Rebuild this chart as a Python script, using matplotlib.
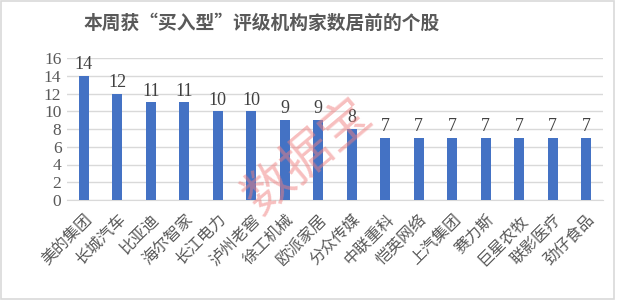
import matplotlib
matplotlib.use('Agg')
import matplotlib.pyplot as plt
from matplotlib.patches import Rectangle

plt.rcParams['font.family'] = ['Liberation Serif', 'Noto Sans CJK SC', 'DejaVu Sans']

# data
stocks = ['美的集团', '长城汽车', '比亚迪', '海尔智家', '长江电力', '泸州老窖', '徐工机械',
          '欧派家居', '分众传媒', '中联重科', '恺英网络', '上汽集团', '赛力斯', '巨星农牧',
          '联影医疗', '劲仔食品']
counts = [14, 12, 11, 11, 10, 10, 9, 9, 8, 7, 7, 7, 7, 7, 7, 7]
yticks = [0, 2, 4, 6, 8, 10, 12, 14, 16]

text_col = '#595959'
grid_col = '#d9d9d9'

fig = plt.figure(figsize=(6.19, 3.0), dpi=100)
ax = fig.add_axes([67 / 619, 100 / 300, 536 / 619, 142 / 300])

x = range(len(stocks))
ax.bar(x, counts, width=0.3, color='#4472c4', zorder=3)
for i, v in zip(x, counts):
    ax.text(i, v + 0.3, str(v), ha='center', va='bottom', fontsize=13,
            color='#404040', zorder=4)

ax.set_ylim(0, 16)
ax.set_xlim(-0.5, len(stocks) - 0.5)
ax.set_yticks(yticks)
ax.set_yticklabels([str(t) for t in yticks], fontsize=12.5, color=text_col)
ax.set_xticks(list(x))
ax.set_xticklabels(stocks, rotation=45, ha='right', rotation_mode='anchor',
                   fontsize=11.5, color=text_col, family=['Noto Sans CJK SC'],
                   fontweight='light')
ax.tick_params(length=0, pad=4)
ax.tick_params(axis='x', pad=8)
ax.grid(axis='y', color=grid_col, linewidth=1, zorder=0)
for s in ['top', 'right', 'left']:
    ax.spines[s].set_visible(False)
ax.spines['bottom'].set_color(grid_col)

fig.text(262 / 619, 1 - 23 / 300, '本周获“买入型”评级机构家数居前的个股', ha='center', va='center',
         fontsize=13.5, fontweight='bold', color=text_col, family=['Noto Sans CJK SC'])

# watermark
fig.text(308 / 619, 1 - 157 / 300, '数据宝', ha='center', va='center', fontsize=36,
         rotation=40, color='#f08080', alpha=0.5, family=['Noto Sans CJK SC'],
         fontweight='light', zorder=10)

# outer border
fig.patches.append(Rectangle((0.002, 0.004), 0.99, 0.992, transform=fig.transFigure,
                             fill=False, edgecolor=grid_col, linewidth=1.2))

fig.savefig('out.png', dpi=100)
